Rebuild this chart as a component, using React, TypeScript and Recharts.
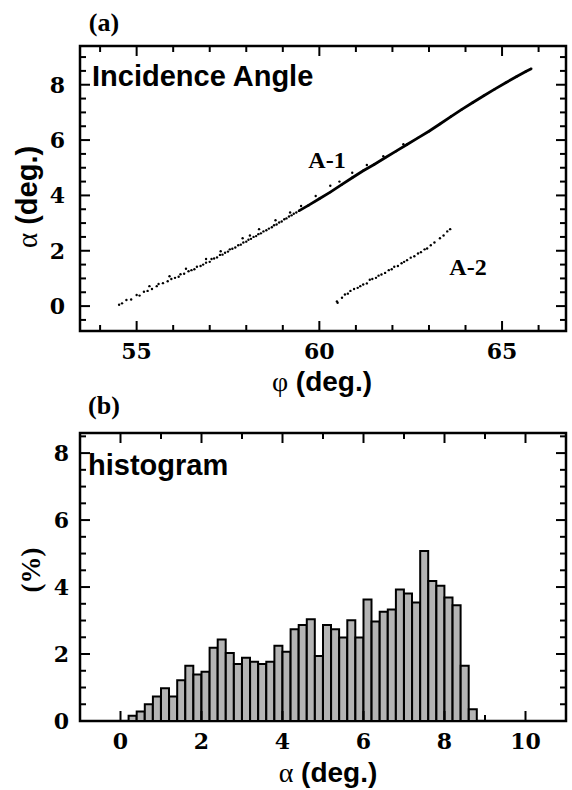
import { ScatterChart, Scatter, BarChart, Bar, XAxis, YAxis, ReferenceArea } from 'recharts';

// panel (a): points, [phi, alpha]
const a1Dots: [number, number][] = [
  [54.52, 0.05], [54.6, 0.1], [54.72, 0.22], [54.85, 0.24], [55.0, 0.4], [55.08, 0.38],
  [55.2, 0.52], [55.3, 0.55], [55.42, 0.62], [55.55, 0.72], [55.6, 0.8], [55.72, 0.83],
  [55.85, 0.9], [55.95, 0.98], [56.05, 1.02], [56.15, 1.06], [56.2, 1.15], [56.3, 1.17],
  [56.42, 1.26], [56.5, 1.3], [56.58, 1.33], [56.65, 1.42], [56.75, 1.45], [56.82, 1.5],
  [56.9, 1.57], [57.0, 1.6], [57.05, 1.7], [57.12, 1.72], [57.2, 1.76], [57.28, 1.85],
  [57.35, 1.86], [57.42, 1.93], [57.5, 1.97], [57.55, 2.05], [57.62, 2.07], [57.7, 2.12],
  [57.78, 2.2], [57.85, 2.22], [57.92, 2.3], [58.0, 2.33], [58.06, 2.4], [58.13, 2.43],
  [58.2, 2.5], [58.27, 2.53], [58.33, 2.6], [58.4, 2.63], [58.47, 2.7], [58.55, 2.74],
  [58.62, 2.8], [58.7, 2.85], [58.76, 2.92], [58.83, 2.95], [58.9, 3.02], [58.97, 3.06],
  [59.04, 3.14], [59.1, 3.17], [59.17, 3.24], [59.24, 3.28], [59.3, 3.34], [59.37, 3.38],
  [55.35, 0.72], [55.9, 1.08], [56.35, 1.35], [56.9, 1.7], [57.3, 1.98], [57.9, 2.45],
  [58.35, 2.78], [58.8, 3.1], [59.5, 3.62], [59.9, 3.98], [60.3, 4.35], [60.55, 4.5],
  [60.9, 4.82], [61.3, 5.1], [61.75, 5.42], [62.3, 5.85], [59.2, 3.38], [58.1, 2.55],
];

const a1Trace: [number, number][] = [
  [59.44, 3.44], [59.7, 3.64], [60.0, 3.88], [60.3, 4.12], [60.6, 4.38], [60.9, 4.64],
  [61.2, 4.89], [61.5, 5.12], [61.8, 5.36], [62.1, 5.6], [62.4, 5.84], [62.7, 6.08],
  [63.0, 6.32], [63.3, 6.58], [63.6, 6.85], [63.9, 7.11], [64.2, 7.36], [64.5, 7.6],
  [64.8, 7.84], [65.1, 8.07], [65.4, 8.3], [65.65, 8.48], [65.8, 8.58],
];

const a2Dots: [number, number][] = [
  [60.48, 0.17], [60.5, 0.12], [60.62, 0.3], [60.7, 0.42], [60.78, 0.45], [60.85, 0.55],
  [60.95, 0.62], [61.05, 0.66], [61.12, 0.72], [61.2, 0.78], [61.3, 0.82], [61.38, 0.95],
  [61.45, 0.98], [61.55, 1.02], [61.62, 1.1], [61.7, 1.14], [61.8, 1.2], [61.9, 1.3],
  [61.98, 1.33], [62.05, 1.42], [62.15, 1.45], [62.25, 1.55], [62.32, 1.6], [62.4, 1.66],
  [62.5, 1.75], [62.6, 1.8], [62.7, 1.9], [62.78, 1.95], [62.88, 2.05], [62.95, 2.08],
  [63.05, 2.2], [63.15, 2.3], [63.3, 2.45], [63.4, 2.55], [63.5, 2.7], [63.58, 2.78],
];

// panel (b): histogram bins (centre, deg.) and percentages
const histBins = [
  0.3, 0.5, 0.7, 0.9, 1.1, 1.3, 1.5, 1.7, 1.9, 2.1,
  2.3, 2.5, 2.7, 2.9, 3.1, 3.3, 3.5, 3.7, 3.9, 4.1,
  4.3, 4.5, 4.7, 4.9, 5.1, 5.3, 5.5, 5.7, 5.9, 6.1,
  6.3, 6.5, 6.7, 6.9, 7.1, 7.3, 7.5, 7.7, 7.9, 8.1,
  8.3, 8.5, 8.7,
];
const histPct = [
  0.16, 0.28, 0.5, 0.73, 0.98, 0.73, 1.22, 1.65, 1.39, 1.47,
  2.19, 2.43, 2.03, 1.7, 1.89, 1.77, 1.7, 1.77, 2.25, 2.07,
  2.74, 2.87, 3.04, 1.94, 2.87, 2.74, 2.49, 3.01, 2.49, 3.63,
  2.97, 3.26, 3.33, 3.93, 3.81, 3.54, 5.08, 4.18, 4.04, 3.69,
  3.46, 1.65, 0.35,
];

const phiTicks = [54, 55, 56, 57, 58, 59, 60, 61, 62, 63, 64, 65, 66];
const alphaTicks = [-0.5, 0, 0.5, 1, 1.5, 2, 2.5, 3, 3.5, 4, 4.5, 5, 5.5, 6, 6.5, 7, 7.5, 8, 8.5, 9];
const histXTicks = [0, 1, 2, 3, 4, 5, 6, 7, 8, 9, 10];
const pctTicks = [0, 0.5, 1, 1.5, 2, 2.5, 3, 3.5, 4, 4.5, 5, 5.5, 6, 6.5, 7, 7.5, 8, 8.5];

const toPts = (arr: [number, number][]) => arr.map(([phi, alpha]) => ({ phi, alpha }));
const histData = histBins.map((x, i) => ({ x, pct: histPct[i] }));

const W = 572;
const PLOT_W = 486;
const TOP_H = 400;
// axes take 1px (a 0px axis is not drawn), so margins are 1px smaller
const TOP_M = { top: 46, right: 6, bottom: 68, left: 79 };
const BOT_H = 390;
const BOT_M = { top: 33, right: 6, bottom: 68, left: 79 };

const tickFont = { fontFamily: '"DejaVu Serif", serif', fontWeight: 700, fontSize: 22 };

function xTick(plotH: number, isMajor: (v: number) => boolean) {
  return (props: any) => {
    const { x, y, payload } = props;
    const v = payload.value;
    const major = isMajor(v);
    const len = major ? 10 : 6;
    return (
      <g>
        <line x1={x} y1={y} x2={x} y2={y - len} stroke="#000" strokeWidth={2} />
        <line x1={x} y1={y - plotH} x2={x} y2={y - plotH + len} stroke="#000" strokeWidth={2} />
        {major && (
          <text x={x} y={y + 28} textAnchor="middle" fill="#000" {...tickFont}>
            {v}
          </text>
        )}
      </g>
    );
  };
}

function yTick(gap: number, isMajor: (v: number) => boolean) {
  return (props: any) => {
    const { x, y, payload } = props;
    const v = payload.value;
    const major = isMajor(v);
    const len = major ? 10 : 6;
    return (
      <g>
        <line x1={x} y1={y} x2={x + len} y2={y} stroke="#000" strokeWidth={2} />
        <line x1={x + PLOT_W} y1={y} x2={x + PLOT_W - len} y2={y} stroke="#000" strokeWidth={2} />
        {major && (
          <text x={x - gap} y={y + 8} textAnchor="end" fill="#000" {...tickFont}>
            {v}
          </text>
        )}
      </g>
    );
  };
}

const dot = (p: any) => <circle cx={p.cx} cy={p.cy} r={1.2} fill="#000" />;

const sansBold = { fontFamily: '"Liberation Sans", Arial, sans-serif', fontWeight: 700 };
const serifBold = { fontFamily: '"Liberation Serif", "Times New Roman", serif', fontWeight: 700 };

export default function App() {
  const topPlotH = TOP_H - TOP_M.top - TOP_M.bottom - 1;
  const botPlotH = BOT_H - BOT_M.top - BOT_M.bottom - 1;
  return (
    <div style={{ position: 'absolute', left: 0, top: 0, width: W, height: 790, background: '#fff' }}>
      <div style={{ position: 'absolute', left: 0, top: 0 }}>
        <ScatterChart width={W} height={TOP_H} margin={TOP_M}>
          <XAxis
            type="number"
            dataKey="phi"
            domain={[53.45, 66.75]}
            allowDataOverflow
            ticks={phiTicks}
            interval={0}
            height={1}
            axisLine={false}
            tickLine={false}
            tickSize={0}
            tickMargin={0}
            tick={xTick(topPlotH, (v) => v % 5 === 0)}
          />
          <YAxis
            type="number"
            dataKey="alpha"
            domain={[-0.9, 9.4]}
            allowDataOverflow
            ticks={alphaTicks}
            interval={0}
            width={1}
            axisLine={false}
            tickLine={false}
            tickSize={0}
            tickMargin={0}
            tick={yTick(15, (v) => v >= 0 && v % 2 === 0)}
          />
          <ReferenceArea x1={53.45} x2={66.75} y1={-0.9} y2={9.4} fill="none" stroke="#000" strokeWidth={2.5} />
          <Scatter data={toPts(a1Dots)} fill="#000" shape={dot} isAnimationActive={false} />
          <Scatter
            data={toPts(a1Trace)}
            fill="#000"
            shape={dot}
            line={{ stroke: '#000', strokeWidth: 2.8 }}
            lineType="joint"
            isAnimationActive={false}
          />
          <Scatter data={toPts(a2Dots)} fill="#000" shape={dot} isAnimationActive={false} />
        </ScatterChart>
      </div>
      <div style={{ position: 'absolute', left: 0, top: TOP_H }}>
        <BarChart width={W} height={BOT_H} data={histData} margin={BOT_M}>
          <XAxis
            type="number"
            dataKey="x"
            domain={[-1, 11]}
            allowDataOverflow
            ticks={histXTicks}
            interval={0}
            height={1}
            axisLine={false}
            tickLine={false}
            tickSize={0}
            tickMargin={0}
            tick={xTick(botPlotH, (v) => v % 2 === 0)}
          />
          <YAxis
            type="number"
            domain={[0, 8.6]}
            allowDataOverflow
            ticks={pctTicks}
            interval={0}
            width={1}
            axisLine={false}
            tickLine={false}
            tickSize={0}
            tickMargin={0}
            tick={yTick(11, (v) => v % 2 === 0)}
          />
          <Bar dataKey="pct" fill="#b4b4b4" stroke="#000" strokeWidth={2} barSize={8} isAnimationActive={false} />
          <ReferenceArea x1={-1} x2={11} y1={0} y2={8.6} fill="none" stroke="#000" strokeWidth={2.5} />
        </BarChart>
      </div>
      <svg width={W} height={790} style={{ position: 'absolute', left: 0, top: 0, pointerEvents: 'none' }}>
        <text x={104} y={31} textAnchor="middle" fontSize={26} {...serifBold}>(a)</text>
        <text x={92} y={86} fontSize={29} {...sansBold}>Incidence Angle</text>
        <text x={327} y={168} textAnchor="middle" fontSize={24} {...serifBold}>A-1</text>
        <text x={468} y={275} textAnchor="middle" fontSize={24} {...serifBold}>A-2</text>
        <text x={322} y={391} textAnchor="middle" fontSize={28} {...sansBold}>
          <tspan fontFamily='"Liberation Serif", serif' fontWeight={400}>φ</tspan> (deg.)
        </text>
        <text transform="translate(37,197) rotate(-90)" textAnchor="middle" fontSize={29} {...sansBold}>
          <tspan fontFamily='"Liberation Serif", serif' fontWeight={400}>α</tspan> (deg.)
        </text>
        <text x={104} y={414} textAnchor="middle" fontSize={26} {...serifBold}>(b)</text>
        <text x={88} y={475} fontSize={29} {...sansBold}>histogram</text>
        <text transform="translate(40,570) rotate(-90)" textAnchor="middle" fontSize={27} {...serifBold}>(%)</text>
        <text x={328} y={782} textAnchor="middle" fontSize={28} {...sansBold}>
          <tspan fontFamily='"Liberation Serif", serif' fontWeight={400}>α</tspan> (deg.)
        </text>
      </svg>
    </div>
  );
}
